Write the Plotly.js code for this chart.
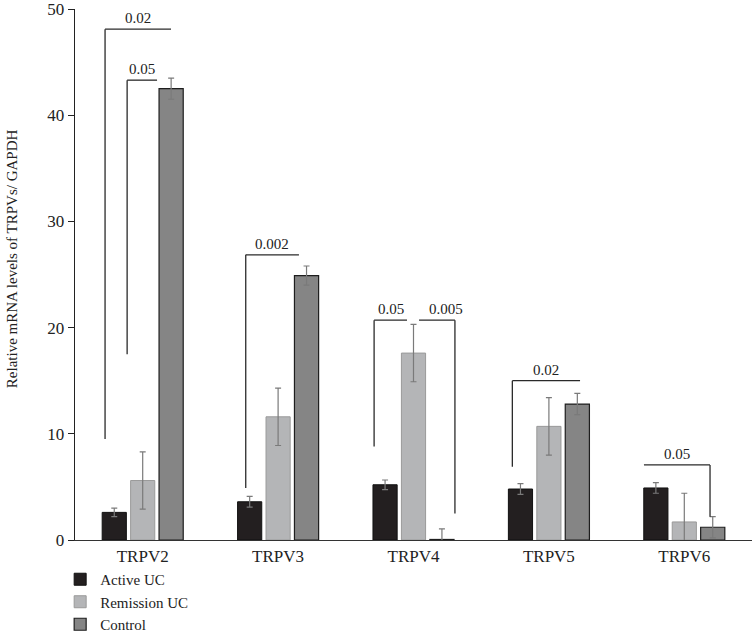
<!DOCTYPE html>
<html>
<head>
<meta charset="utf-8">
<script src="https://cdn.plot.ly/plotly-3.0.1.min.js"></script>
<style>html,body{margin:0;padding:0;background:#fff;}#chart{width:752px;height:634px;}</style>
</head>
<body>
<div id="chart"></div>
<script>
const categories = ['TRPV2', 'TRPV3', 'TRPV4', 'TRPV5', 'TRPV6'];
const activeUC = [2.6, 3.6, 5.2, 4.8, 4.9];
const activeErr = [0.4, 0.5, 0.45, 0.5, 0.5];
const remissionUC = [5.6, 11.6, 17.6, 10.7, 1.7];
const remissionErr = [2.7, 2.7, 2.7, 2.7, 2.7];
const control = [42.5, 24.9, 0.05, 12.8, 1.2];
const controlErr = [1.0, 0.9, 1.0, 1.0, 1.0];
const seriesNames = ['Active UC', 'Remission UC', 'Control'];
const yTitle = 'Relative mRNA levels of TRPVs/ GAPDH';

// significance brackets: category index, left/right offsets, top, left drop, right drop, label, label offset
const bracketCat = [0, 0, 1, 2, 2, 3, 4];
const bracketX0 = [-0.278, -0.115, -0.239, -0.291, 0.041, -0.27, -0.298];
const bracketX1 = [0.209, 0.106, 0.154, -0.048, 0.306, 0.23, 0.19];
const bracketTop = [48.1, 43.3, 26.85, 20.7, 20.7, 15.0, 7.07];
const bracketLeftDrop = [9.5, 17.5, 4.9, 8.8, null, 6.9, null];
const bracketRightDrop = [null, null, null, null, 2.5, null, 2.2];
const bracketLabel = ['0.02', '0.05', '0.002', '0.05', '0.005', '0.02', '0.05'];
const bracketLabelShift = [0, 0, 0, 0, 0.07, 0, 0];

const FONT = 'Liberation Serif';
const errStyle = {type: 'data', visible: true, color: '#7a7a7a', thickness: 1.2, width: 3};

const traces = [
  {type: 'bar', name: seriesNames[0], x: categories, y: activeUC,
   error_y: Object.assign({array: activeErr}, errStyle),
   marker: {color: '#231f20', line: {color: '#111', width: 1}}},
  {type: 'bar', name: seriesNames[1], x: categories, y: remissionUC,
   error_y: Object.assign({array: remissionErr}, errStyle),
   marker: {color: '#b4b5b7', line: {color: '#9a9a9a', width: 1}}},
  {type: 'bar', name: seriesNames[2], x: categories, y: control,
   error_y: Object.assign({array: controlErr}, errStyle),
   marker: {color: '#858585', line: {color: '#1e1e1e', width: 1.2}}}
];

const shapes = [];
const annotations = [];
const lc = '#2a2a2a';
for (let i = 0; i < bracketCat.length; i++) {
  const c = bracketCat[i];
  const x0 = c + bracketX0[i], x1 = c + bracketX1[i], yt = bracketTop[i];
  shapes.push({type: 'line', xref: 'x', yref: 'y', x0: x0, x1: x1, y0: yt, y1: yt, line: {color: lc, width: 1.3}});
  if (bracketLeftDrop[i] !== null) {
    shapes.push({type: 'line', xref: 'x', yref: 'y', x0: x0, x1: x0, y0: yt, y1: bracketLeftDrop[i], line: {color: lc, width: 1.3}});
  }
  if (bracketRightDrop[i] !== null) {
    shapes.push({type: 'line', xref: 'x', yref: 'y', x0: x1, x1: x1, y0: yt, y1: bracketRightDrop[i], line: {color: lc, width: 1.3}});
  }
  annotations.push({xref: 'x', yref: 'y', x: (x0 + x1) / 2 + bracketLabelShift[i], y: yt,
    text: bracketLabel[i], showarrow: false, yanchor: 'bottom', yshift: 1,
    font: {family: FONT, size: 15, color: '#222'}});
}
annotations.push({xref: 'paper', yref: 'paper', x: -0.093, y: 0.529, xanchor: 'center', yanchor: 'middle',
  text: yTitle, textangle: -90, showarrow: false, font: {family: FONT, size: 15, color: '#222'}});

const layout = {
  width: 752, height: 634,
  margin: {l: 75, r: 0, t: 9, b: 94, autoexpand: false},
  paper_bgcolor: '#fff', plot_bgcolor: '#fff',
  barmode: 'group', bargap: 0.37, bargroupgap: 0.15,
  font: {family: FONT, size: 15, color: '#222'},
  xaxis: {type: 'category', range: [-0.5, 4.5], showline: true, linecolor: '#333', linewidth: 1.3,
    ticks: '', showgrid: false, zeroline: false, automargin: false, tickfont: {family: FONT, size: 17, color: '#222'}},
  yaxis: {range: [0, 50], dtick: 10, showline: true, linecolor: '#222', linewidth: 1.3,
    ticks: 'outside', ticklen: 6, tickcolor: '#222', showgrid: false, zeroline: false, automargin: false,
    ticklabeloverflow: 'allow',
    tickfont: {family: FONT, size: 17, color: '#222'}},
  showlegend: true,
  legend: {xref: 'container', yref: 'container', x: 0.08, y: 0.112, xanchor: 'left', yanchor: 'top',
    orientation: 'v', font: {family: FONT, size: 15, color: '#222'}, itemwidth: 30, bgcolor: 'rgba(0,0,0,0)'},
  shapes: shapes,
  annotations: annotations
};

Plotly.newPlot('chart', traces, layout, {displayModeBar: false, staticPlot: true});
</script>
</body>
</html>
